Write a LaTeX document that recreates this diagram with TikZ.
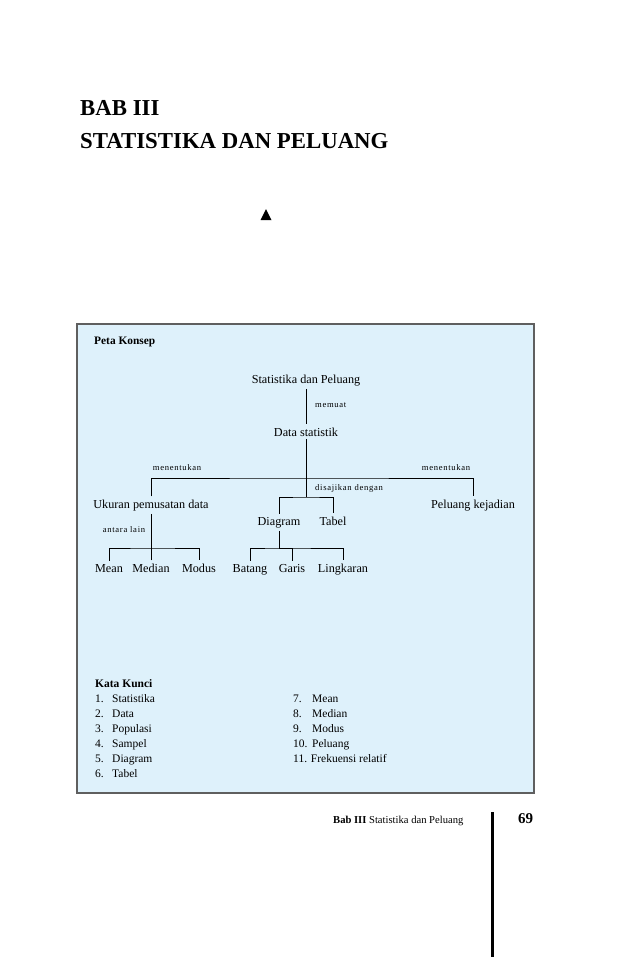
\documentclass[tikz,border=0pt]{standalone}
\usepackage{fontspec}
\setmainfont{Liberation Serif}
\newfontfamily\spaced[LetterSpace=8]{Liberation Serif}
\definecolor{konsepbiru}{RGB}{222,241,251}
\definecolor{bingkai}{RGB}{95,95,95}

\begin{document}
\begin{tikzpicture}[x=1pt,y=-1pt,
    konsep/.style={font=\fontsize{12.2}{14}\selectfont, inner xsep=0pt, inner ysep=3pt, anchor=base},
    kata/.style={font=\spaced\fontsize{8.6}{10}\selectfont, inner sep=0pt},
    cabang/.style={line width=0.9pt}]
    \useasboundingbox (0,0) rectangle (638,962);

    \coordinate (J1) at (306, 478);
    \coordinate (J2) at (306, 497);
    \coordinate (U1) at (151, 548);
    \coordinate (D1) at (279, 548);
    \coordinate (G1) at (492, 812);
    \coordinate (G2) at (492, 957);

%title
    \node[anchor=base west, inner sep=0pt, font=\bfseries\fontsize{22.8}{26}\selectfont] (bab) at (80, 115) {BAB III};
    \node[anchor=base west, inner sep=0pt, font=\bfseries\fontsize{22.8}{26}\selectfont] (judul) at (80, 148) {STATISTIKA DAN PELUANG};
    \fill (260.5, 220) -- (266, 209) -- (271.5, 220) -- cycle;

%box
    \draw[bingkai, line width=1.8pt, fill=konsepbiru] (77, 324) rectangle (534, 793);
    \node[anchor=base west, inner sep=0pt, font=\bfseries\fontsize{11.4}{13}\selectfont] (peta) at (94, 344) {Peta Konsep};

%concepts
    \node[konsep] (stat) at (306, 383) {Statistika dan Peluang};
    \node[konsep] (data) at (306, 436) {Data statistik};
    \node[konsep] (ukuran) at (151, 508) {Ukuran pemusatan data};
    \node[konsep] (peluang) at (473, 508) {Peluang kejadian};
    \node[konsep] (diagram) at (279, 525) {Diagram};
    \node[konsep] (tabel) at (333, 525) {Tabel};
    \node[konsep] (mean) at (109, 572) {Mean};
    \node[konsep] (median) at (151, 572) {Median};
    \node[konsep] (modus) at (199, 572) {Modus};
    \node[konsep] (batang) at (250, 572) {Batang};
    \node[konsep] (garis) at (292, 572) {Garis};
    \node[konsep] (lingkaran) at (343, 572) {Lingkaran};

%links
    \draw[cabang] (stat) -- (data);
    \draw[cabang] (data) -- (J2);
    \draw[cabang] (ukuran) |- (J1) -| (peluang);
    \draw[cabang] (diagram) |- (J2) -| (tabel);
    \draw[cabang] (ukuran) -- (U1);
    \draw[cabang] (mean) |- (U1) -| (modus);
    \draw[cabang] (median) |- (U1);
    \draw[cabang] (diagram) -- (D1);
    \draw[cabang] (batang) |- (D1) -| (lingkaran);
    \draw[cabang] (garis) |- (D1);

%labels
    \node[kata, anchor=west] (memuat) at (315, 405) {memuat};
    \node[kata] (tentu1) at (177, 468) {menentukan};
    \node[kata] (tentu2) at (446, 468) {menentukan};
    \node[kata, anchor=west] (saji) at (315, 488) {disajikan dengan};
    \node[kata] (antara) at (124, 530) {antara lain};

%keywords
    \node[anchor=base west, inner sep=0pt, font=\fontsize{11.5}{15}\selectfont] (kunci1) at (95, 687)
        {\begin{tabular}[t]{@{}p{17pt}@{}l@{}}
        \multicolumn{2}{@{}l}{\bfseries Kata Kunci}\\
        1. & Statistika\\
        2. & Data\\
        3. & Populasi\\
        4. & Sampel\\
        5. & Diagram\\
        6. & Tabel
        \end{tabular}};
    \node[anchor=base west, inner sep=0pt, font=\fontsize{11.5}{15}\selectfont] (kunci2) at (293, 702)
        {\begin{tabular}[t]{@{}p{19pt}@{}l@{}}
        7. & Mean\\
        8. & Median\\
        9. & Modus\\
        10. & Peluang\\
        \multicolumn{2}{@{}l}{11. Frekuensi relatif}
        \end{tabular}};

%footer
    \node[anchor=base west, inner sep=0pt, font=\fontsize{10.6}{12}\selectfont] (kaki) at (333, 823) {\textbf{Bab III} Statistika dan Peluang};
    \node[anchor=base west, inner sep=0pt, font=\bfseries\fontsize{15}{17}\selectfont] (hal) at (518, 823) {69};
    \draw[line width=3pt] (G1) -- (G2);
\end{tikzpicture}
\end{document}
